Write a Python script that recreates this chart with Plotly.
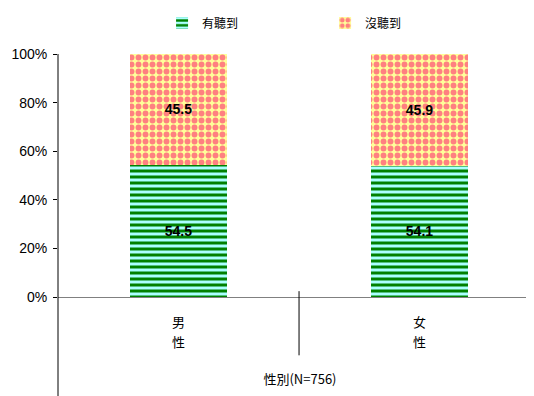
import plotly.graph_objects as go

categories = ["男性", "女性"]
heard = [54.5, 54.1]
not_heard = [45.5, 45.9]
series_names = ["有聽到", "沒聽到"]
y_ticks = [0, 20, 40, 60, 80, 100]
y_tick_labels = ["0%", "20%", "40%", "60%", "80%", "100%"]
x_title = "性別(N=756)"

cjk = "Noto Sans CJK TC"
lat = "Liberation Sans, Arial"

fig = go.Figure()
fig.add_trace(go.Bar(
    x=categories, y=heard, name=series_names[0],
    text=[f"{v:.1f}" for v in heard], textposition="inside",
    insidetextanchor="middle",
    textfont=dict(family=lat, size=14, color="black", weight="bold"),
    marker=dict(color="#aaffff", line=dict(width=0),
                pattern=dict(shape="-", fgcolor="#008000", bgcolor="#aaffff",
                             size=6, solidity=0.5, fillmode="replace")),
))
fig.add_trace(go.Bar(
    x=categories, y=not_heard, name=series_names[1],
    text=[f"{v:.1f}" for v in not_heard], textposition="inside",
    insidetextanchor="middle",
    textfont=dict(family=lat, size=14, color="black", weight="bold"),
    marker=dict(color="#ffff99", line=dict(width=0),
                pattern=dict(shape=".", fgcolor="#ff8080", bgcolor="#ffff99",
                             size=7, solidity=0.55, fillmode="replace")),
))

# category labels: one character per line, wider line spacing as in the reference
annotations = []
for cat in categories:
    for i, ch in enumerate(cat):
        annotations.append(dict(
            x=cat, xref="x", y=-0.1 - 0.084 * i, yref="paper",
            text=ch, showarrow=False, xanchor="center", yanchor="middle",
            font=dict(family=cjk, size=13, color="black")))

fig.update_layout(
    width=534, height=396,
    margin=dict(l=50, r=0, t=39, b=107),
    barmode="stack", bargap=0.6,
    plot_bgcolor="white", paper_bgcolor="white",
    showlegend=True,
    legend=dict(orientation="h", x=0.215, xanchor="left", y=1.128, yanchor="middle",
                font=dict(family=cjk, size=12, color="black"),
                entrywidth=118, entrywidthmode="pixels", traceorder="normal",
                bgcolor="rgba(0,0,0,0)"),
    xaxis=dict(range=[-0.5, 1.508], showline=True, linecolor="#808080", linewidth=1,
               ticks="", showticklabels=False, automargin=False,
               title=dict(text=x_title, font=dict(family=cjk, size=13, color="black"), standoff=77),
               showgrid=False, zeroline=False),
    yaxis=dict(range=[0, 100], tickvals=y_ticks, ticktext=y_tick_labels,
               showline=False, ticks="outside", ticklen=4, tickcolor="black",
               ticklabelstandoff=3,
               tickfont=dict(family=lat, size=14, color="black"), automargin=False,
               showgrid=False, zeroline=False),
    annotations=annotations,
    shapes=[
        dict(type="line", xref="paper", yref="paper", x0=0, x1=0, y0=1, y1=-0.45,
             line=dict(color="black", width=1)),
        dict(type="line", xref="x", yref="paper", x0=0.5, x1=0.5, y0=0.024, y1=-0.24,
             line=dict(color="black", width=1)),
    ],
)

fig.write_html("out.html")
